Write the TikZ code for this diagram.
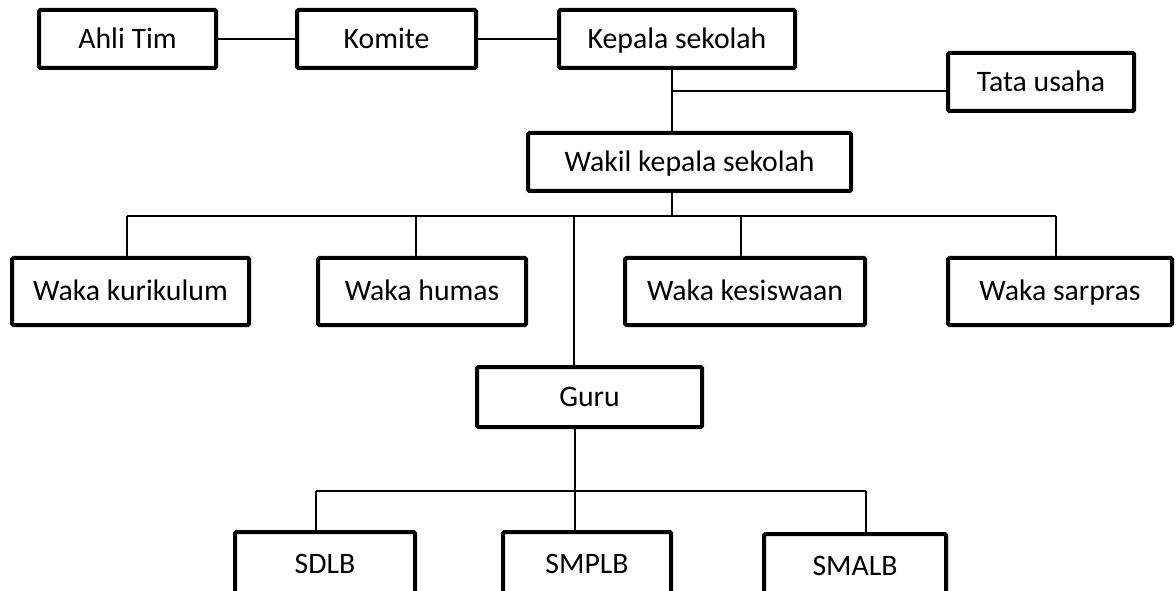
\documentclass[tikz,border=0pt]{standalone}
\usepackage{fontspec}
\setmainfont{Carlito}
\tikzset{
  orgbox/.style={draw=black, line width=3pt, rounded corners=1pt, fill=white, inner sep=0pt,
    font=\fontsize{22.3}{26}\selectfont, text height=15.5pt, text depth=1.5pt, anchor=center},
  conn/.style={draw=black, line width=1.2pt}
}
\newcommand\obox[6]{\node[orgbox, minimum width={(#4-#2-4)*0.75pt}, minimum height={(#5-#3-4)*0.75pt}] (#1) at ({(#2+#4)/2},{(#3+#5)/2}) {#6};}
\begin{document}
\begin{tikzpicture}[x=0.75pt,y=-0.75pt]
\useasboundingbox (0,0) rectangle (1176,591);
\clip (0,0) rectangle (1176,591);
\fill[white] (0,0) rectangle (1176,591);
\coordinate (k1) at (672,91);
\coordinate (b1) at (672,216);
\coordinate (bl) at (127,216);
\coordinate (br) at (1056,216);
\coordinate (bh) at (416,216);
\coordinate (bk) at (741,216);
\coordinate (g1) at (574,216);
\coordinate (g2) at (575,491);
\coordinate (gl) at (316,491);
\coordinate (gr) at (866,491);
% boxes
\obox{ahli}{37}{8}{218}{70}{Ahli Tim}
\obox{komite}{295}{8}{478}{70}{Komite}
\obox{kepala}{557}{8}{797}{70}{Kepala sekolah}
\obox{tata}{946}{51}{1136}{113}{Tata usaha}
\obox{wakil}{526}{131}{853}{193}{Wakil kepala sekolah}
\obox{kurikulum}{10}{256}{251}{327}{Waka kurikulum}
\obox{humas}{316}{256}{528}{327}{Waka humas}
\obox{kesiswaan}{623}{256}{867}{327}{Waka kesiswaan}
\obox{sarpras}{946}{256}{1174}{327}{Waka sarpras}
\obox{guru}{475}{365}{704}{429}{Guru}
\obox{sdlb}{233}{530}{417}{598}{SDLB}
\obox{smplb}{501}{530}{673}{598}{SMPLB}
\obox{smalb}{762}{532}{948}{600}{SMALB}
% lines
\draw[conn] (ahli.east) -- (komite.west);
\draw[conn] (komite.east) -- (kepala.west);
\draw[conn] (kepala.south -| k1) -- (wakil.north -| k1);
\draw[conn] (k1) -- (tata.west |- k1);
\draw[conn] (wakil.south -| b1) -- (b1);
\draw[conn] (bl) -- (br);
\draw[conn] (bl) -- (kurikulum.north -| bl);
\draw[conn] (bh) -- (humas.north -| bh);
\draw[conn] (bk) -- (kesiswaan.north -| bk);
\draw[conn] (br) -- (sarpras.north -| br);
\draw[conn] (g1) -- (guru.north -| g1);
\draw[conn] (guru.south -| g2) -- (g2);
\draw[conn] (gl) -- (gr);
\draw[conn] (gl) -- (sdlb.north -| gl);
\draw[conn] (g2) -- (smplb.north -| g2);
\draw[conn] (gr) -- (smalb.north -| gr);
\end{tikzpicture}
\end{document}
